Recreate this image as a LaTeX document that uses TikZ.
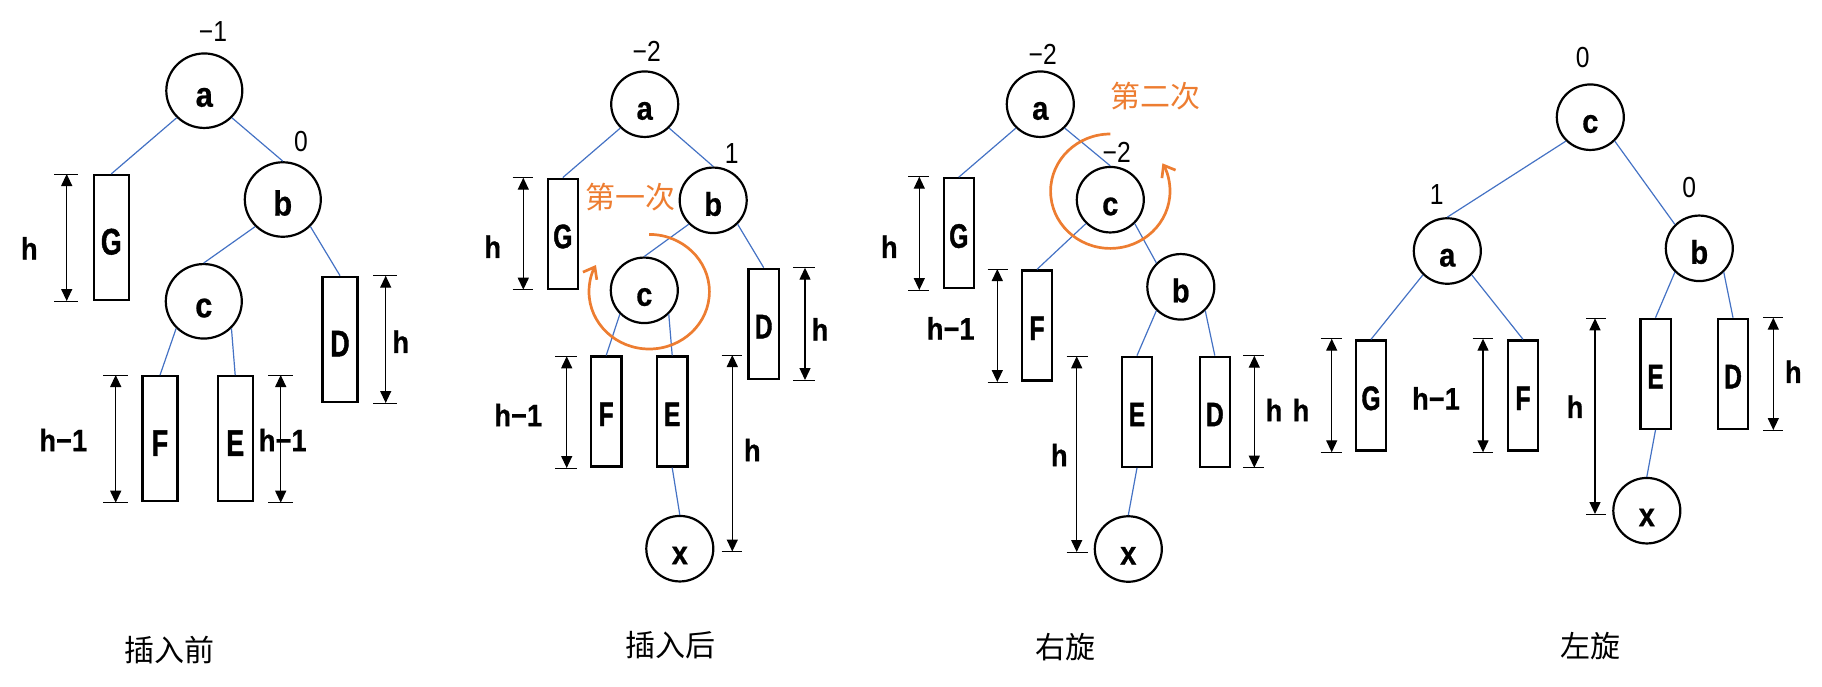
\documentclass[tikz,border=0pt]{standalone}
\usepackage{fontspec}
\setmainfont{Liberation Sans}
\newfontfamily\lbf[FakeStretch=0.85]{Liberation Sans}
\newfontfamily\nodef[FakeStretch=0.88,FakeBold=0.6]{Liberation Sans}
\newfontfamily\boxf[FakeStretch=0.72,FakeBold=1.2]{Liberation Sans}
\newfontfamily\cjk{Noto Sans CJK SC}
\usetikzlibrary{shapes.geometric,arrows.meta}
\definecolor{edgeblue}{HTML}{4472C4}
\definecolor{rotorange}{HTML}{ED7D31}
\tikzset{
  every node/.style={inner sep=0pt},
  nodebig/.style={ellipse, draw, line width=2.2pt, minimum width=76pt, minimum height=74.5pt,
    text height=32pt, text depth=0pt, font=\nodef\bfseries\fontsize{35}{35}\selectfont},
  nodesm/.style={ellipse, draw, line width=2.2pt, minimum width=67pt, minimum height=65.5pt,
    text height=31pt, text depth=0pt, font=\nodef\bfseries\fontsize{33}{33}\selectfont},
  boxbig/.style={rectangle, draw, line width=2.3pt, minimum width=35pt, minimum height=125pt,
    text height=34pt, text depth=0pt, font=\boxf\bfseries\fontsize{37}{37}\selectfont},
  boxsm/.style={rectangle, draw, line width=2.3pt, minimum width=30.3pt, minimum height=110pt,
    text height=29pt, text depth=0pt, font=\boxf\bfseries\fontsize{34}{34}\selectfont},
  tedge/.style={draw=edgeblue, line width=1.2pt},
  hlab/.style={font=\nodef\bfseries\fontsize{31}{31}\selectfont},
  numlab/.style={font=\lbf\fontsize{29}{29}\selectfont},
  captext/.style={font=\cjk\fontsize{30}{30}\selectfont},
  rottext/.style={font=\cjk\fontsize{30}{30}\selectfont, text=rotorange},
  dimarrow/.style={{Triangle[width=11pt,length=12pt]}-{Triangle[width=11pt,length=12pt]}, line width=1.3pt},
  dimtick/.style={line width=1pt},
  rotarc/.style={draw=rotorange, line width=2.7pt, -{Straight Barb[angle=75:13pt]}},
}
\newcommand{\dimmark}[5]{%
  \draw[dimtick] (#4,#2) -- (#5,#2);
  \draw[dimtick] (#4,#3) -- (#5,#3);
  \draw[dimarrow] (#1,#2) -- (#1,#3);
}
\begin{document}
\begin{tikzpicture}[x=1pt, y=-1pt]
\useasboundingbox (0,0) rectangle (1822,686);

% ---------------- Panel 1: before insertion
\node[nodebig] (a1) at (204.3,90.7) {a};
\node[nodebig] (b1) at (282.8,199.5) {b};
\node[nodebig] (c1) at (203.8,301.3) {c};
\node[boxbig] (G1) at (111.3,237.5) {G};
\node[boxbig] (D1) at (340,339.3) {D};
\node[boxbig] (F1) at (160,438.8) {F};
\node[boxbig] (E1) at (235.2,438.8) {E};
\draw[tedge] (a1.south west) -- (G1.north);
\draw[tedge] (a1.south east) -- (b1.north);
\draw[tedge] (b1.south west) -- (c1.north);
\draw[tedge] (b1.south east) -- (D1.north);
\draw[tedge] (c1.south west) -- (F1.north);
\draw[tedge] (c1.south east) -- (E1.north);
\dimmark{66.7}{174}{301}{54.3}{78.3}
\dimmark{385.7}{275.7}{403}{373.3}{397.3}
\dimmark{115.7}{375}{502.7}{103.3}{127.7}
\dimmark{280.7}{375}{502.7}{268.3}{292.7}
\node[numlab] (n1a) at (213,31.7) {−1};
\node[numlab] (n1b) at (301,141.7) {0};
\node[hlab] (h1g) at (29.3,248.3) {h};
\node[hlab] (h1d) at (400.7,341.7) {h};
\node[hlab] (h1f) at (63.3,440) {h−1};
\node[hlab] (h1e) at (282.7,440) {h−1};
\node[captext] (cap1) at (169.2,649.7) {插入前};

% ---------------- Panel 2: after insertion
\node[nodesm] (a2) at (644.7,104.2) {a};
\node[nodesm] (b2) at (713.2,200.3) {b};
\node[nodesm] (c2) at (644.3,290.3) {c};
\node[nodesm] (x2) at (679.8,548.7) {x};
\node[boxsm] (G2) at (562.8,233.7) {G};
\node[boxsm] (D2) at (763.7,323.8) {D};
\node[boxsm] (F2) at (606.2,411.5) {F};
\node[boxsm] (E2) at (672.2,411.5) {E};
\draw[tedge] (a2.south west) -- (G2.north);
\draw[tedge] (a2.south east) -- (b2.north);
\draw[tedge] (b2.south west) -- (c2.north);
\draw[tedge] (b2.south east) -- (D2.north);
\draw[tedge] (c2.south west) -- (F2.north);
\draw[tedge] (c2.south east) -- (E2.north);
\draw[tedge] (E2.south) -- (x2.north);
\dimmark{523.3}{177.7}{289.7}{512.7}{533.3}
\dimmark{805}{267.7}{380}{793.3}{815}
\dimmark{566.7}{356.3}{468}{555}{576.7}
\dimmark{732.3}{355}{551.5}{721.7}{742.3}
\draw[rotarc] (649.2,234.4) arc[start angle=-90, end angle=207.8, x radius=60.2, y radius=57.3];
\node[numlab] (n2a) at (646.7,51.7) {−2};
\node[numlab] (n2b) at (731.7,153.3) {1};
\node[rottext] (r2) at (630.8,197.5) {第一次};
\node[hlab] (h2g) at (492.7,246.7) {h};
\node[hlab] (h2d) at (820,329.3) {h};
\node[hlab] (h2f) at (518.3,415) {h−1};
\node[hlab] (h2x) at (752.3,450) {h};
\node[captext] (cap2) at (670,645) {插入后};

% ---------------- Panel 3: right rotation
\node[nodesm] (a3) at (1040.3,104.2) {a};
\node[nodesm] (c3) at (1110.3,199.7) {c};
\node[nodesm] (b3) at (1180.8,286.8) {b};
\node[nodesm] (x3) at (1128.3,549) {x};
\node[boxsm] (G3) at (958.8,233.3) {G};
\node[boxsm] (F3) at (1037,325.5) {F};
\node[boxsm] (E3) at (1137,411.7) {E};
\node[boxsm] (D3) at (1214.8,411.7) {D};
\draw[tedge] (a3.south west) -- (G3.north);
\draw[tedge] (a3.south east) -- (c3.north);
\draw[tedge] (c3.south west) -- (F3.north);
\draw[tedge] (c3.south east) -- (b3.north west);
\draw[tedge] (b3.south west) -- (E3.north);
\draw[tedge] (b3.south east) -- (D3.north);
\draw[tedge] (E3.south) -- (x3.north);
\dimmark{919.3}{176.7}{290}{908.3}{929.3}
\dimmark{997.3}{269}{382}{987.7}{1008.3}
\dimmark{1254.3}{355.7}{467.7}{1243.3}{1264.3}
\dimmark{1076.7}{356.3}{552}{1066.7}{1087.7}
\draw[rotarc] (1110.3,134) arc[start angle=-90, end angle=-389.2, x radius=59.7, y radius=57.2];
\node[numlab] (n3a) at (1042.7,54) {−2};
\node[numlab] (n3c) at (1116.7,152.3) {−2};
\node[rottext] (r3) at (1155,96.3) {第二次};
\node[hlab] (h3g) at (889.3,246.7) {h};
\node[hlab] (h3f) at (950.7,328.3) {h−1};
\node[hlab] (h3x) at (1059.3,455) {h};
\node[hlab] (h3d) at (1274,410) {h};
\node[captext] (cap3) at (1065.5,647) {右旋};

% ---------------- Panel 4: left rotation
\node[nodesm] (c4) at (1590.3,117.2) {c};
\node[nodesm] (a4) at (1447.3,251) {a};
\node[nodesm] (b4) at (1699.3,248.3) {b};
\node[nodesm] (x4) at (1646.8,510.7) {x};
\node[boxsm] (G4) at (1371,395.5) {G};
\node[boxsm] (F4) at (1523,395.5) {F};
\node[boxsm] (E4) at (1655.5,373.8) {E};
\node[boxsm] (D4) at (1733,373.8) {D};
\draw[tedge] (c4.south west) -- (a4.north);
\draw[tedge] (c4.south east) -- (b4.north west);
\draw[tedge] (a4.south west) -- (G4.north);
\draw[tedge] (a4.south east) -- (F4.north);
\draw[tedge] (b4.south west) -- (E4.north);
\draw[tedge] (b4.south east) -- (D4.north);
\draw[tedge] (E4.south) -- (x4.north);
\dimmark{1331.7}{338.7}{452.3}{1320.7}{1341.7}
\dimmark{1483}{338.7}{452.3}{1472.7}{1493.3}
\dimmark{1773.3}{317.7}{430}{1763.3}{1783.3}
\dimmark{1595}{318.3}{514}{1586}{1606}
\node[numlab] (n4c) at (1582.7,57.3) {0};
\node[numlab] (n4a) at (1436.7,195) {1};
\node[numlab] (n4b) at (1689.3,187.7) {0};
\node[hlab] (h4g) at (1301,410) {h};
\node[hlab] (h4f) at (1436,398.3) {h−1};
\node[hlab] (h4x) at (1575,406.7) {h};
\node[hlab] (h4d) at (1793.3,371.7) {h};
\node[captext] (cap4) at (1590.4,646) {左旋};
\end{tikzpicture}
\end{document}
